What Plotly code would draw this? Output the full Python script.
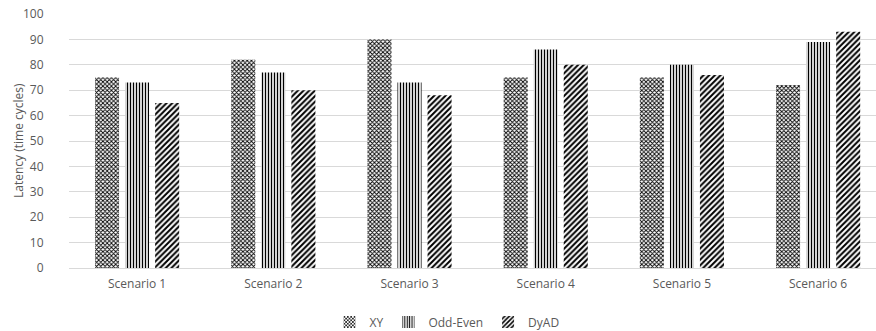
import plotly.graph_objects as go

categories = ["Scenario 1", "Scenario 2", "Scenario 3", "Scenario 4", "Scenario 5", "Scenario 6"]
xy = [75, 82, 90, 75, 75, 72]
odd_even = [73, 77, 73, 86, 80, 89]
dyad = [65, 70, 68, 80, 76, 93]

series = [
    ("XY", xy, dict(shape="x", size=3, solidity=0.5)),
    ("Odd-Even", odd_even, dict(shape="|", size=3, solidity=0.45)),
    ("DyAD", dyad, dict(shape="/", size=4, solidity=0.5)),
]

fig = go.Figure()
for name, vals, pat in series:
    fig.add_trace(go.Bar(
        name=name, x=categories, y=vals,
        marker=dict(color="white", line=dict(width=0),
                    pattern=dict(fgcolor="black", bgcolor="white", fillmode="replace", **pat)),
    ))

W, H = 876, 331
left, top, bottom = 69, 13.5, 62.5
fig.update_layout(
    width=W, height=H,
    margin=dict(l=left, r=0, t=top, b=bottom, autoexpand=False),
    paper_bgcolor="white", plot_bgcolor="white",
    barmode="group", bargap=0.338, bargroupgap=0.2,
    font=dict(family="Open Sans", size=12, color="#595959"),
    showlegend=True,
    legend=dict(orientation="h", xref="paper", x=(447 - left) / (W - left), xanchor="center",
                yref="container", y=9 / H, yanchor="middle",
                font=dict(size=12, color="#595959"), traceorder="normal",
                tracegroupgap=0, itemwidth=30),
)
fig.update_xaxes(type="category", range=[-0.5, 5.425], showgrid=False, showline=False,
                 ticks="outside", ticklen=5, tickcolor="rgba(0,0,0,0)",
                 tickfont=dict(size=12, color="#595959"))
fig.update_yaxes(range=[0, 100], dtick=10, showgrid=True, gridcolor="#d9d9d9", gridwidth=1,
                 zeroline=True, zerolinecolor="#d9d9d9", zerolinewidth=1,
                 ticks="outside", ticklen=22, tickcolor="rgba(0,0,0,0)",
                 tickfont=dict(size=12, color="#595959"))
fig.add_annotation(text="Latency (time cycles)", xref="paper", yref="paper",
                   x=-(left - 18) / (W - left), y=0.5, xanchor="center", yanchor="middle",
                   textangle=-90, showarrow=False, font=dict(size=12, color="#595959"))

fig.write_html("out.html", config={"displayModeBar": False},
               post_script="document.body.style.margin='0';document.body.style.overflow='hidden';")
